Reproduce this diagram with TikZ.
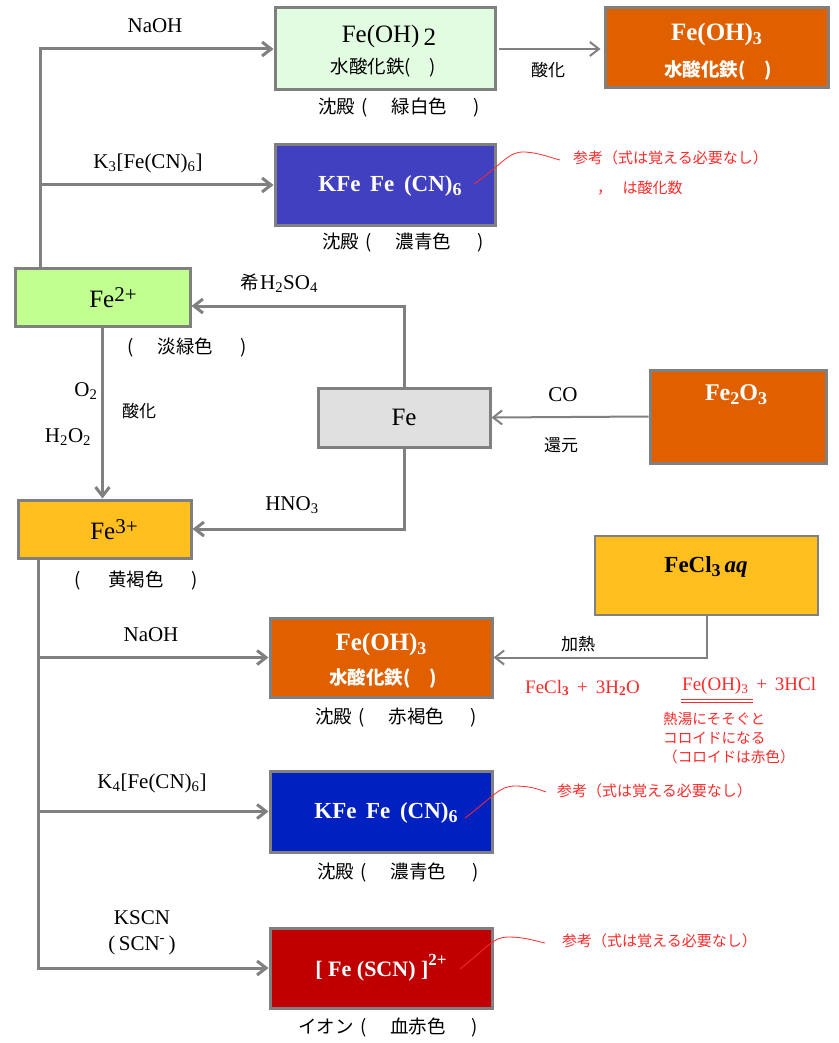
\documentclass[tikz,border=0pt]{standalone}
\usepackage{fontspec}
\setmainfont{Liberation Serif}
\newfontfamily\jp{Noto Sans CJK JP}
\usetikzlibrary{arrows.meta}
\definecolor{bordergray}{HTML}{808080}
\definecolor{linegray}{HTML}{808080}
\definecolor{palegreen}{HTML}{E2FCE2}
\definecolor{orangefill}{HTML}{E06000}
\definecolor{bluefillA}{HTML}{4040C0}
\definecolor{limefill}{HTML}{C0FF90}
\definecolor{grayfill}{HTML}{E0E0E0}
\definecolor{yellowfill}{HTML}{FFBF1F}
\definecolor{bluefillB}{HTML}{0020C0}
\definecolor{redfill}{HTML}{C00000}
\definecolor{notered}{HTML}{FF2A2A}
\newcommand\latL{\fontsize{21}{24}\selectfont}
\newcommand\latB{\fontsize{25}{28}\selectfont}
\newcommand\jpL{\jp\fontsize{18.5}{22}\selectfont}
\newcommand\jpM{\jp\fontsize{17}{20}\selectfont}
\newcommand\jpS{\jp\fontsize{15}{19}\selectfont}
\newcommand\lowsub[1]{\raisebox{-0.35ex}{\fontsize{18}{20}\selectfont #1}}
\newcommand\bigsup[1]{\raisebox{0.55ex}{\fontsize{21}{24}\selectfont #1}}
\newcommand\colorparen[2]{#1\hspace{0.35em}(\hspace{1.3em}#2\hspace{1.4em})}
\begin{document}
\begin{tikzpicture}[x=1pt,y=-1pt,
  box/.style={draw=bordergray, line width=3pt, inner sep=0pt, anchor=center},
  conn/.style={draw=linegray, line width=3pt, -{Straight Barb[length=9pt,width=14pt]}},
  thinconn/.style={draw=linegray, line width=2pt, -{Straight Barb[length=9pt,width=14pt]}},
  lab/.style={inner sep=0pt, anchor=center},
  labw/.style={inner sep=0pt, anchor=west},
  note/.style={inner sep=0pt, anchor=west, text=notered},
  curve/.style={draw=notered, line width=0.8pt},
  wtext/.style={inner sep=0pt, anchor=center, text=white, font=\bfseries}
]
\useasboundingbox (0,0) rectangle (838,1043);

% ---------- boxes ----------
\node[box, fill=palegreen, minimum width=220pt, minimum height=82pt] (ferh2) at (385,49) {};
\node[lab] at (389,36) {\latB Fe(OH)\,\raisebox{-0.3ex}{2}};
\node[lab] at (383,68) {\jpL 水酸化鉄(\hspace{1em})};

\node[box, fill=orangefill, minimum width=223pt, minimum height=80pt] (ferh3a) at (716.5,48) {};
\node[wtext] at (716.5,34) {\latB Fe(OH)\lowsub{3}};
\node[wtext] at (718,70) {\jpL\bfseries 水酸化鉄(\hspace{1em})};

\node[box, fill=bluefillA, minimum width=220pt, minimum height=80pt] (kfeA) at (385,185) {};
\node[wtext] at (390,186) {\fontsize{23}{26}\selectfont KFe\, Fe\, (CN)\lowsub{6}};

\node[box, fill=limefill, minimum width=175pt, minimum height=58pt] (fe2) at (102.5,297) {};
\node[lab] at (113,298) {\latB Fe\bigsup{2+}};

\node[box, fill=grayfill, minimum width=172pt, minimum height=59pt] (fe) at (404,417.5) {\latB Fe};

\node[box, fill=orangefill, minimum width=176pt, minimum height=93pt] (fe2o3) at (738,416.5) {};
\node[wtext] at (736,395) {\fontsize{24}{26}\selectfont Fe\lowsub{2}O\lowsub{3}};

\node[box, fill=yellowfill, minimum width=173pt, minimum height=58pt] (fe3) at (104.5,529) {};
\node[lab] at (114,530) {\latB Fe\bigsup{3+}};

\node[box, fill=yellowfill, line width=2pt, minimum width=223pt, minimum height=79pt] (fecl3) at (706.5,575.5) {};
\node[lab, font=\bfseries] at (706,567) {\fontsize{23}{26}\selectfont FeCl\lowsub{3}\,\textit{aq}};

\node[box, fill=orangefill, minimum width=222pt, minimum height=79pt] (ferh3b) at (381,657.5) {};
\node[wtext] at (381,644) {\latB Fe(OH)\lowsub{3}};
\node[wtext] at (383,678) {\jpL\bfseries 水酸化鉄(\hspace{1em})};

\node[box, fill=bluefillB, minimum width=222pt, minimum height=81pt] (kfeB) at (381,811.5) {};
\node[wtext] at (386,813) {\fontsize{23}{26}\selectfont KFe\, Fe\, (CN)\lowsub{6}};

\node[box, fill=redfill, minimum width=222pt, minimum height=80pt] (scn) at (381,968) {};
\node[wtext] at (381,968) {\fontsize{22}{26}\selectfont [ Fe (SCN) ]\raisebox{1.1ex}{\fontsize{17}{20}\selectfont 2+}};

% ---------- connectors ----------
\coordinate (L1) at ([xshift=27pt]fe2.north west);
\draw[conn] (L1) |- (ferh2.west);
\draw[conn] (L1 |- kfeA.west) -- (kfeA.west);
\draw[thinconn, shorten <=2pt, shorten >=3pt] (ferh2.east) -- (ferh2.east -| ferh3a.west);
\draw[conn] (fe2.south) -- (fe2.south |- fe3.north);
\draw[conn] (fe.north) |- ([yshift=-9pt]fe2.east);
\draw[conn] (fe.south) |- (fe3.east);
\draw[thinconn] (fe2o3.west) -- (fe.east);
\coordinate (L2) at ([xshift=22pt]fe3.south west);
\draw[conn] (L2) |- (ferh3b.west);
\draw[conn] (L2) |- (kfeB.west);
\draw[conn] (L2) |- (scn.west);
\draw[thinconn] (fecl3.south) |- (ferh3b.east);

% ---------- labels ----------
\node[lab] at (155,26) {\latL NaOH};
\node[lab] at (548,70) {\jpM 酸化};
\node[labw] at (318,108) {\jpL\colorparen{沈殿}{緑白色}};
\node[lab] at (148,163) {\latL K\textsubscript{3}[Fe(CN)\textsubscript{6}]};
\node[note] at (573,158) {\jpS 参考（式は覚える必要なし）};
\node[note] at (597,188) {\jpS ，\hspace{0.7em}は酸化数};
\node[labw] at (322,243) {\jpL\colorparen{沈殿}{濃青色}};
\node[lab] at (279,283) {{\jpL 希}\,\latL H\textsubscript{2}SO\textsubscript{4}};
\node[labw] at (127,348) {\jpL (\hspace{1.3em}淡緑色\hspace{1.5em})};
\node[lab] at (86,391) {\latL O\textsubscript{2}};
\node[lab] at (139,411) {\jpM 酸化};
\node[lab] at (68,437) {\latL H\textsubscript{2}O\textsubscript{2}};
\node[lab] at (563,395) {\latL CO};
\node[lab] at (561,445) {\jpM 還元};
\node[lab] at (292,505) {\latL HNO\textsubscript{3}};
\node[labw] at (74,581) {\jpL (\hspace{1.5em}黄褐色\hspace{1.5em})};
\node[lab] at (151,635) {\latL NaOH};
\node[lab] at (578,644) {\jpM 加熱};
\node[note] at (525,688) {\fontsize{19}{22}\selectfont FeCl\textsubscript{\textbf{3}} \,+\, 3H\textsubscript{\textbf{2}}O};
\node[note] (rhs) at (682,686) {\fontsize{19}{22}\selectfont Fe(OH)\textsubscript{3} \,+\, 3HCl};
\draw[notered, line width=0.8pt] (681,699) -- (753,699);
\draw[notered, line width=0.8pt] (681,702.5) -- (753,702.5);
\node[note, anchor=north west, align=left, font=\jp\fontsize{14.6}{19}\selectfont] at (663,712)
  {熱湯にそそぐと\\コロイドになる\\（コロイドは赤色）};
\node[labw] at (315,718) {\jpL\colorparen{沈殿}{赤褐色}};
\node[lab] at (152,783) {\latL K\textsubscript{4}[Fe(CN)\textsubscript{6}]};
\node[note] at (557,791) {\jpS 参考（式は覚える必要なし）};
\node[labw] at (317,873) {\jpL\colorparen{沈殿}{濃青色}};
\node[lab] at (142,918) {\latL KSCN};
\node[lab] at (142,945) {\latL (\,SCN\textsuperscript{-}\,)};
\node[note] at (562,941) {\jpS 参考（式は覚える必要なし）};
\node[labw] at (298,1028) {\jpL\colorparen{イオン}{血赤色}};

% ---------- red curves ----------
\draw[curve] (474,184) .. controls (502,165) and (508,151) .. (525,152) .. controls (540,153) and (548,157) .. (560,160);
\draw[curve] (465,818) .. controls (493,797) and (499,786) .. (515,786) .. controls (530,786) and (538,789) .. (546,792);
\draw[curve] (460,969) .. controls (488,947) and (493,937) .. (508,937) .. controls (523,937) and (532,940) .. (545,943);
\end{tikzpicture}
\end{document}
